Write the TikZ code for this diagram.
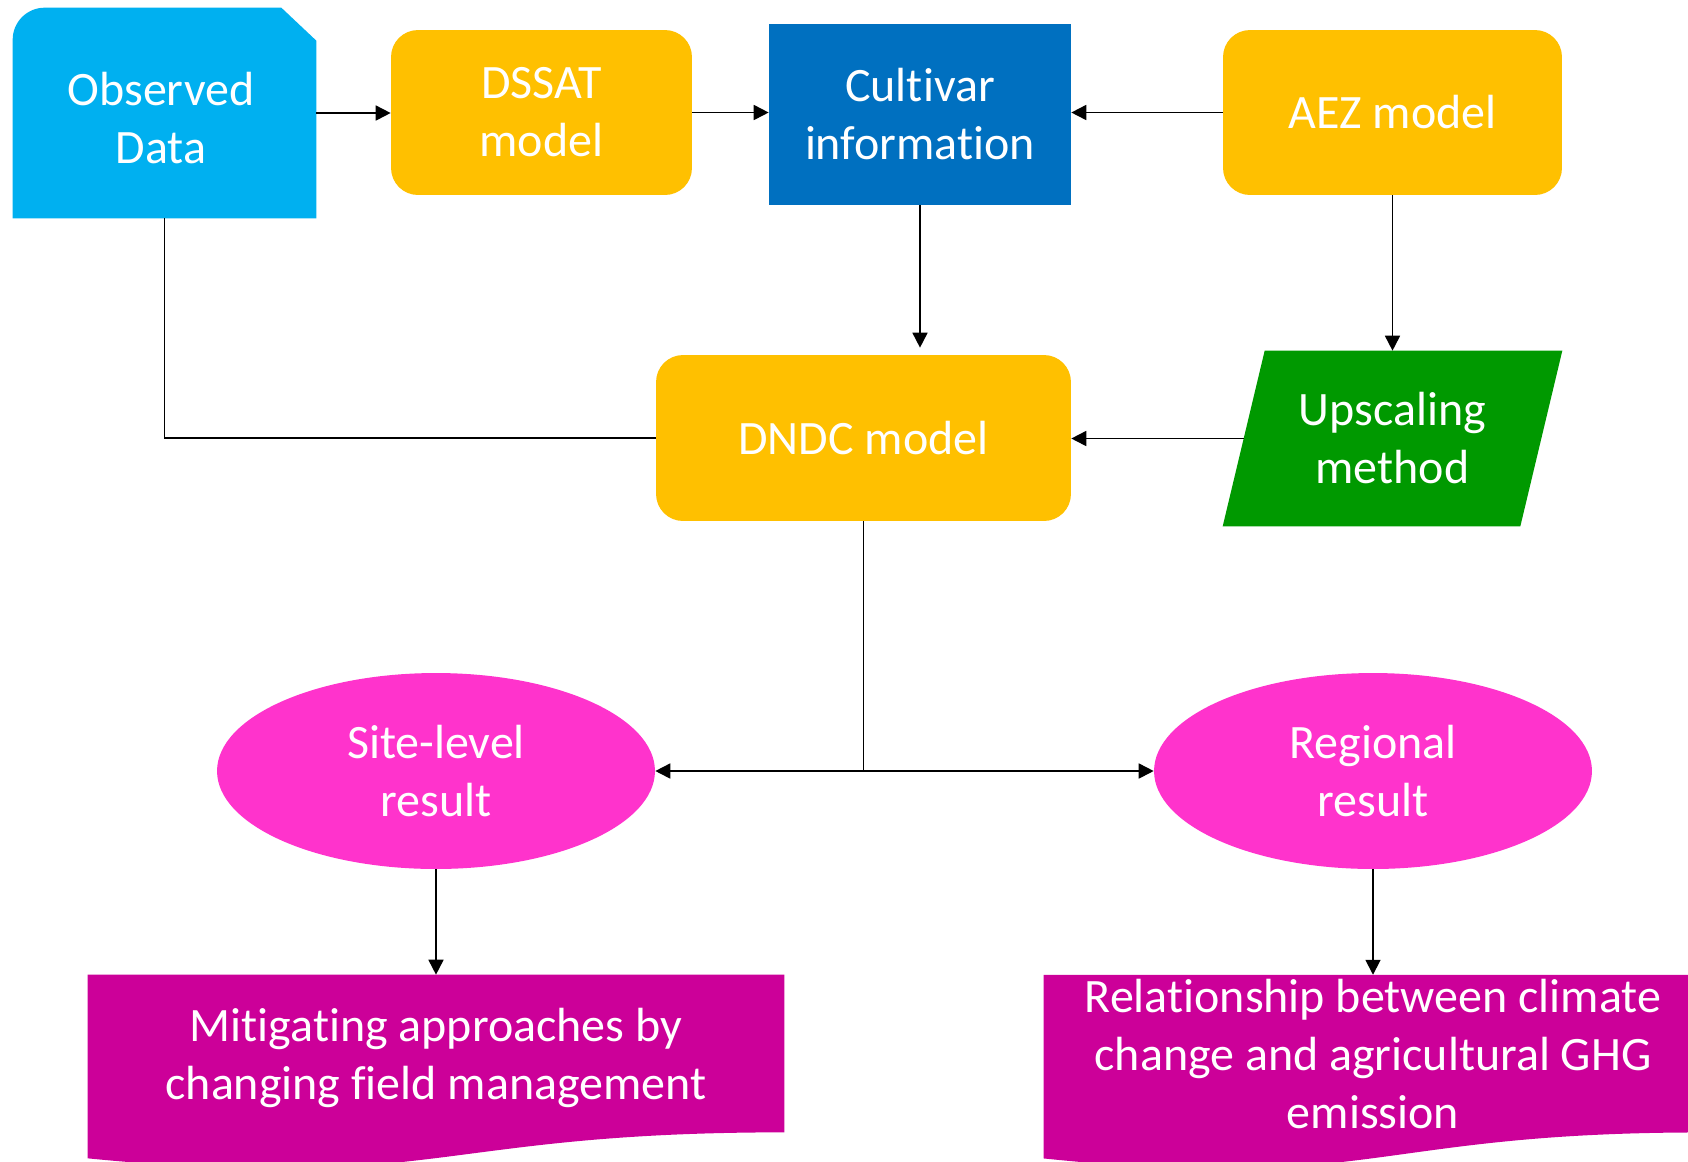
\documentclass[tikz,border=0pt]{standalone}
\usepackage{fontspec}
\setmainfont{Carlito}[Ligatures=NoCommon]
\usetikzlibrary{shapes.geometric,arrows.meta,backgrounds}
\definecolor{obsC}{HTML}{00B0F0}
\definecolor{ylwC}{HTML}{FFC000}
\definecolor{bluC}{HTML}{0070C0}
\definecolor{grnC}{HTML}{009900}
\definecolor{pnkC}{HTML}{FF33CC}
\definecolor{magC}{HTML}{CC0099}
\tikzset{
  lbl/.style={text=white, align=center, inner sep=0pt, font=\fontsize{27.3}{33}\selectfont},
  rbox/.style={lbl, rectangle, rounded corners=0.54cm, fill=ylwC},
  arr/.style={line width=1pt, -{Triangle[length=0.3cm,width=0.3cm]}},
  conn/.style={line width=1pt},
  ell/.style={lbl, ellipse, fill=pnkC, minimum width=8.76cm, minimum height=3.92cm}
}
\begin{document}
\begin{tikzpicture}[x=0.02cm,y=-0.02cm]
\useasboundingbox (0,0) rectangle (1688,1161);
\clip (0,0) rectangle (1688,1161);
% nodes
\node[minimum width=6.06cm, minimum height=4.2cm, inner sep=0pt] (obs) at (164.5,113) {};
\node[lbl] (obstext) at (161,118) {Observed\\Data};
\node[rbox, minimum width=6.02cm, minimum height=3.3cm] (dssat) at (541.5,112.5) {DSSAT\\model};
\node[lbl, fill=bluC, minimum width=6.04cm, minimum height=3.62cm] (cult) at (920,114.5) {Cultivar\\information};
\node[rbox, minimum width=6.78cm, minimum height=3.3cm] (aez) at (1392.5,112.5) {AEZ model};
\node[rbox, minimum width=8.3cm, minimum height=3.32cm] (dndc) at (863.5,438) {DNDC model};
\node[lbl, minimum width=5.94cm, minimum height=3.5cm] (up) at (1392.5,438.5) {Upscaling\\method};
\node[ell] (site) at (436,771) {Site-level\\result};
\node[ell] (reg) at (1373,771) {Regional\\result};
\node[lbl, minimum width=13.92cm, minimum height=3.32cm] (mit) at (436,1058) {Mitigating approaches by\\changing field management};
\node[lbl, minimum width=13.16cm, minimum height=3.14cm] (rel) at (1373,1053.6) {Relationship between climate\\change and agricultural GHG\\emission};
\coordinate (split) at (863.5,771);
% custom shapes behind text
\begin{scope}[on background layer]
\fill[white] (0,0) rectangle (1688,1161);
\fill[obsC] (obs.south west) [rounded corners=0.64cm] -- (obs.north west) [sharp corners] -- ([xshift=-0.7cm]obs.north east) -- ([yshift=-0.66cm]obs.north east) -- (obs.south east) -- cycle;
\fill[grnC] ([xshift=0.42cm]up.north west) -- ([xshift=0.42cm]up.north east) -- ([xshift=-0.42cm]up.south east) -- ([xshift=-0.42cm]up.south west) -- cycle;
\fill[magC] (mit.north west) -- (mit.north east) -- ([yshift=0.18cm]mit.south east) .. controls ([yshift=0.18cm]mit.south) and ([yshift=-1.02cm]mit.south) .. ([yshift=-0.34cm]mit.south west) -- cycle;
\fill[magC] (rel.north west) -- (rel.north east) -- (rel.south east) .. controls (rel.south) and ([yshift=-1.2cm]rel.south) .. ([yshift=-0.52cm]rel.south west) -- cycle;
\end{scope}
% connectors
\draw[arr] (obs.east) -- (obs.east -| dssat.west);
\draw[arr] (dssat.east) -- (dssat.east -| cult.west);
\draw[arr] (aez.west) -- (aez.west -| cult.east);
\draw[arr, shorten >=0.14cm] (cult.south) -- (cult.south |- dndc.north);
\draw[arr] (aez.south) -- (up.north);
\draw[arr] (up.west) -- (up.west -| dndc.east);
\draw[conn] (obs.south) |- (dndc.west);
\draw[conn] (dndc.south) -- (split);
\draw[arr] (split) -- (site.east);
\draw[arr] (split) -- (reg.west);
\draw[arr] (site.south) -- (mit.north);
\draw[arr] (reg.south) -- (rel.north);
\end{tikzpicture}
\end{document}
